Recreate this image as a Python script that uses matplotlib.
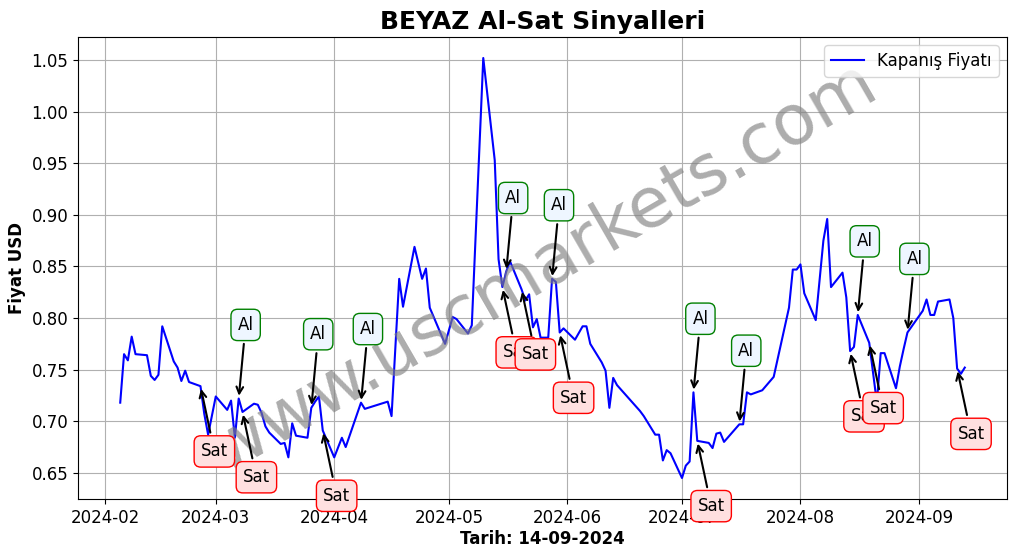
import matplotlib
matplotlib.use("Agg")
import matplotlib.pyplot as plt
import matplotlib.dates as mdates
import pandas as pd

title = "BEYAZ Al-Sat Sinyalleri"
xlabel = "Tarih: 14-09-2024"
ylabel = "Fiyat USD"
legend_label = "Kapanış Fiyatı"
watermark = "www.uscmarkets.com"

dates = [
    "2024-02-05", "2024-02-06", "2024-02-07", "2024-02-08", "2024-02-09", "2024-02-12",
    "2024-02-13", "2024-02-14", "2024-02-15", "2024-02-16", "2024-02-19", "2024-02-20",
    "2024-02-21", "2024-02-22", "2024-02-23", "2024-02-26", "2024-02-27", "2024-02-28",
    "2024-03-01", "2024-03-04", "2024-03-05", "2024-03-06", "2024-03-07", "2024-03-08",
    "2024-03-11", "2024-03-12", "2024-03-13", "2024-03-14", "2024-03-15", "2024-03-18",
    "2024-03-19", "2024-03-20", "2024-03-21", "2024-03-22", "2024-03-25", "2024-03-26",
    "2024-03-27", "2024-03-28", "2024-03-29", "2024-04-01", "2024-04-03", "2024-04-04",
    "2024-04-08", "2024-04-09", "2024-04-15", "2024-04-16", "2024-04-18", "2024-04-19",
    "2024-04-22", "2024-04-24", "2024-04-25", "2024-04-26", "2024-04-30", "2024-05-02",
    "2024-05-03", "2024-05-06", "2024-05-07", "2024-05-10", "2024-05-13", "2024-05-14",
    "2024-05-15", "2024-05-16", "2024-05-17", "2024-05-20", "2024-05-21", "2024-05-22",
    "2024-05-23", "2024-05-24", "2024-05-25", "2024-05-27", "2024-05-28", "2024-05-29",
    "2024-05-30", "2024-05-31", "2024-06-03", "2024-06-05", "2024-06-06", "2024-06-07",
    "2024-06-10", "2024-06-11", "2024-06-12", "2024-06-13", "2024-06-14", "2024-06-20",
    "2024-06-21", "2024-06-24", "2024-06-25", "2024-06-26", "2024-06-27", "2024-06-28",
    "2024-07-01", "2024-07-02", "2024-07-03", "2024-07-04", "2024-07-05", "2024-07-08",
    "2024-07-09", "2024-07-10", "2024-07-11", "2024-07-12", "2024-07-16", "2024-07-17",
    "2024-07-18", "2024-07-19", "2024-07-22", "2024-07-25", "2024-07-29", "2024-07-30",
    "2024-07-31", "2024-08-01", "2024-08-02", "2024-08-05", "2024-08-07", "2024-08-08",
    "2024-08-09", "2024-08-12", "2024-08-13", "2024-08-14", "2024-08-15", "2024-08-16",
    "2024-08-19", "2024-08-21", "2024-08-22", "2024-08-23", "2024-08-26", "2024-08-27",
    "2024-08-28", "2024-08-29", "2024-09-02", "2024-09-03", "2024-09-04", "2024-09-05",
    "2024-09-06", "2024-09-09", "2024-09-10", "2024-09-11", "2024-09-12", "2024-09-13",
]
prices = [
    0.718, 0.765, 0.759, 0.782, 0.765, 0.764,
    0.744, 0.740, 0.745, 0.792, 0.758, 0.752,
    0.739, 0.749, 0.738, 0.734, 0.707, 0.687,
    0.724, 0.711, 0.720, 0.684, 0.722, 0.709,
    0.717, 0.716, 0.708, 0.695, 0.689, 0.678,
    0.679, 0.665, 0.698, 0.686, 0.684, 0.713,
    0.719, 0.724, 0.691, 0.665, 0.684, 0.675,
    0.718, 0.712, 0.719, 0.705, 0.838, 0.811,
    0.869, 0.838, 0.848, 0.810, 0.775, 0.801,
    0.799, 0.785, 0.793, 1.052, 0.953, 0.857,
    0.830, 0.845, 0.855, 0.828, 0.817, 0.823,
    0.791, 0.799, 0.781, 0.781, 0.838, 0.835,
    0.786, 0.790, 0.779, 0.792, 0.792, 0.775,
    0.757, 0.749, 0.713, 0.742, 0.735, 0.710,
    0.705, 0.687, 0.687, 0.662, 0.672, 0.669,
    0.645, 0.657, 0.661, 0.728, 0.681, 0.679,
    0.674, 0.688, 0.689, 0.680, 0.697, 0.697,
    0.728, 0.726, 0.730, 0.743, 0.810, 0.847,
    0.847, 0.852, 0.824, 0.798, 0.875, 0.896,
    0.830, 0.844, 0.820, 0.768, 0.772, 0.803,
    0.776, 0.718, 0.766, 0.766, 0.732, 0.753,
    0.770, 0.786, 0.807, 0.818, 0.803, 0.803,
    0.816, 0.818, 0.800, 0.751, 0.746, 0.752,
]

buy_dates = ["2024-03-07", "2024-03-26", "2024-04-08", "2024-05-16", "2024-05-28",
             "2024-07-04", "2024-07-16", "2024-08-16", "2024-08-29"]
sell_dates = ["2024-02-26", "2024-03-08", "2024-03-29", "2024-05-15", "2024-05-20",
              "2024-05-30", "2024-07-05", "2024-08-14", "2024-08-19", "2024-09-11"]

series = pd.Series(prices, index=pd.to_datetime(dates))

fig = plt.figure(figsize=(10.17, 5.54), dpi=100)
ax = fig.add_axes([78 / 1017, 1 - 499 / 554, (1007 - 78) / 1017, (499 - 37) / 554])

ax.plot(series.index, series.values, color="blue", lw=1.5, label=legend_label, zorder=3)

signals = [(d, "Al") for d in buy_dates] + [(d, "Sat") for d in sell_dates]
signals.sort(key=lambda s: s[0])
for d, kind in signals:
    t = pd.Timestamp(d)
    y = series[t]
    if kind == "Al":
        ax.annotate("Al", xy=(t, y), xytext=(5, 53), textcoords="offset points",
                    ha="center", va="center", fontsize=12,
                    bbox=dict(boxstyle="round,pad=0.4", fc="#eef6ff", ec="green", lw=1),
                    arrowprops=dict(arrowstyle="->", color="black", lw=1.5), zorder=5)
    else:
        ax.annotate("Sat", xy=(t, y), xytext=(10, -47), textcoords="offset points",
                    ha="center", va="center", fontsize=12,
                    bbox=dict(boxstyle="round,pad=0.4", fc="#ffe0e0", ec="red", lw=1),
                    arrowprops=dict(arrowstyle="->", color="black", lw=1.5), zorder=5)

ax.text(0.5, 0.5, watermark, transform=ax.transAxes, fontsize=50, color="gray",
        alpha=0.65, rotation=30, ha="center", va="center", zorder=4)

ax.xaxis.set_major_locator(mdates.MonthLocator())
ax.xaxis.set_major_formatter(mdates.DateFormatter("%Y-%m"))
ax.tick_params(labelsize=12)
ax.grid(True, color="#b0b0b0", lw=0.8)
ax.set_axisbelow(True)

ax.set_title(title, fontsize=18, fontweight="bold")
ax.set_xlabel(xlabel, fontsize=12, fontweight="bold", labelpad=2)
ax.set_ylabel(ylabel, fontsize=12, fontweight="bold")
ax.legend(loc="upper right", fontsize=12)

fig.savefig("out.png", dpi=100)
